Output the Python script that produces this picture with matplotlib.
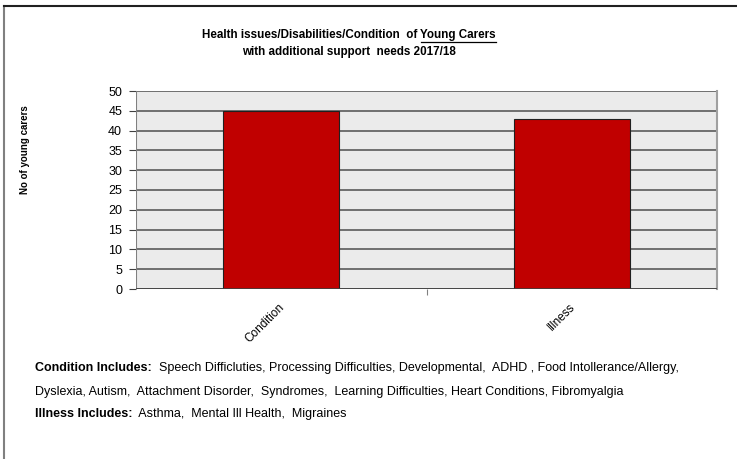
import matplotlib
matplotlib.use("Agg")
import matplotlib.pyplot as plt
from matplotlib.lines import Line2D

categories = ["Condition", "Illness"]
counts = [45, 43]
y_ticks = list(range(0, 55, 5))

title_1 = "Health issues/Disabilities/Condition  of "
title_1_ul = "Young Carers"
title_2 = "with additional support  needs 2017/18"

notes = [
    [("Condition Includes:", True),
     ("  Speech Difficluties, Processing Difficulties, Developmental,  ADHD , Food Intollerance/Allergy,", False)],
    [("Dyslexia, Autism,  Attachment Disorder,  Syndromes,  Learning Difficulties, Heart Conditions, Fibromyalgia", False)],
    [("Illness Includes:", True), ("  Asthma,  Mental Ill Health,  Migraines", False)],
]

W, H = 737, 459
FONT = "Liberation Sans"
fig = plt.figure(figsize=(W / 100, H / 100), dpi=100)
fig.patch.set_facecolor("white")

# outer frame (only top and left edges fall inside the image)
fig.add_artist(Line2D([4 / W, 4 / W], [0, 1 - 6 / H], color="#808080", lw=1.5))
fig.add_artist(Line2D([4 / W, 1], [1 - 6 / H, 1 - 6 / H], color="#202020", lw=1.5))

ax = fig.add_axes([136 / W, 1 - 289 / H, (717 - 136) / W, (289 - 91) / H])
ax.set_facecolor("#ebebeb")
x = list(range(len(categories)))
ax.bar(x, counts, width=0.4, color="#c00000", edgecolor="#202020", linewidth=0.8, zorder=3)
ax.set_xlim(-0.5, len(categories) - 0.5)
ax.set_ylim(0, 50)
ax.set_yticks(y_ticks)
ax.yaxis.grid(True, color="#5a5a5a", linewidth=1.2, zorder=1)
ax.set_axisbelow(True)
for s in ["top", "left", "bottom"]:
    ax.spines[s].set_visible(False)
ax.spines["right"].set_color("#a0a0a0")
ax.spines["right"].set_linewidth(1.5)
ax.axvline(-0.5, color="#808080", lw=1.5, zorder=4)
ax.axhline(0, color="#404040", lw=1.2, zorder=4)

ax.set_xticks([0.5])
ax.set_xticklabels([""])
ax.tick_params(axis="x", length=4, color="#808080")
ax.tick_params(axis="y", length=5, color="#404040", labelsize=9, pad=5)
for lbl in ax.get_yticklabels():
    lbl.set_family(FONT)
for i, name in enumerate(categories):
    ax.text(i + 0.02, -3, name, rotation=45, ha="right", va="top", fontsize=8.5,
            family=FONT)

fig.text(25 / W, 1 - 150 / H, "No of young carers", rotation=90, ha="center", va="center",
         fontsize=7, fontweight="bold", family=FONT)

# title with underlined part
tfont = dict(fontsize=8.4, fontweight="bold", family=FONT)
renderer = fig.canvas.get_renderer()
t1 = fig.text(0, 1 - 35 / H, title_1, va="center", **tfont)
t1u = fig.text(0, 1 - 35 / H, title_1_ul, va="center", **tfont)
w1 = t1.get_window_extent(renderer).width
w1u = t1u.get_window_extent(renderer).width
x0 = 349 - (w1 + w1u) / 2
t1.set_x(x0 / W)
t1u.set_x((x0 + w1) / W)
uy = 1 - 41.5 / H
fig.add_artist(Line2D([(x0 + w1) / W, (x0 + w1 + w1u) / W], [uy, uy], color="black", lw=0.9))
fig.text(349 / W, 1 - 52 / H, title_2, ha="center", va="center", **tfont)

# notes below the chart, bold prefix followed by plain text
line_y = [368, 392, 414]
for row, yy in zip(notes, line_y):
    xpos = 35
    for txt, bold in row:
        t = fig.text(xpos / W, 1 - yy / H, txt, va="center", fontsize=9.0,
                     fontweight="bold" if bold else "normal", family=FONT)
        xpos += t.get_window_extent(renderer).width

fig.savefig("out.png", dpi=100)
